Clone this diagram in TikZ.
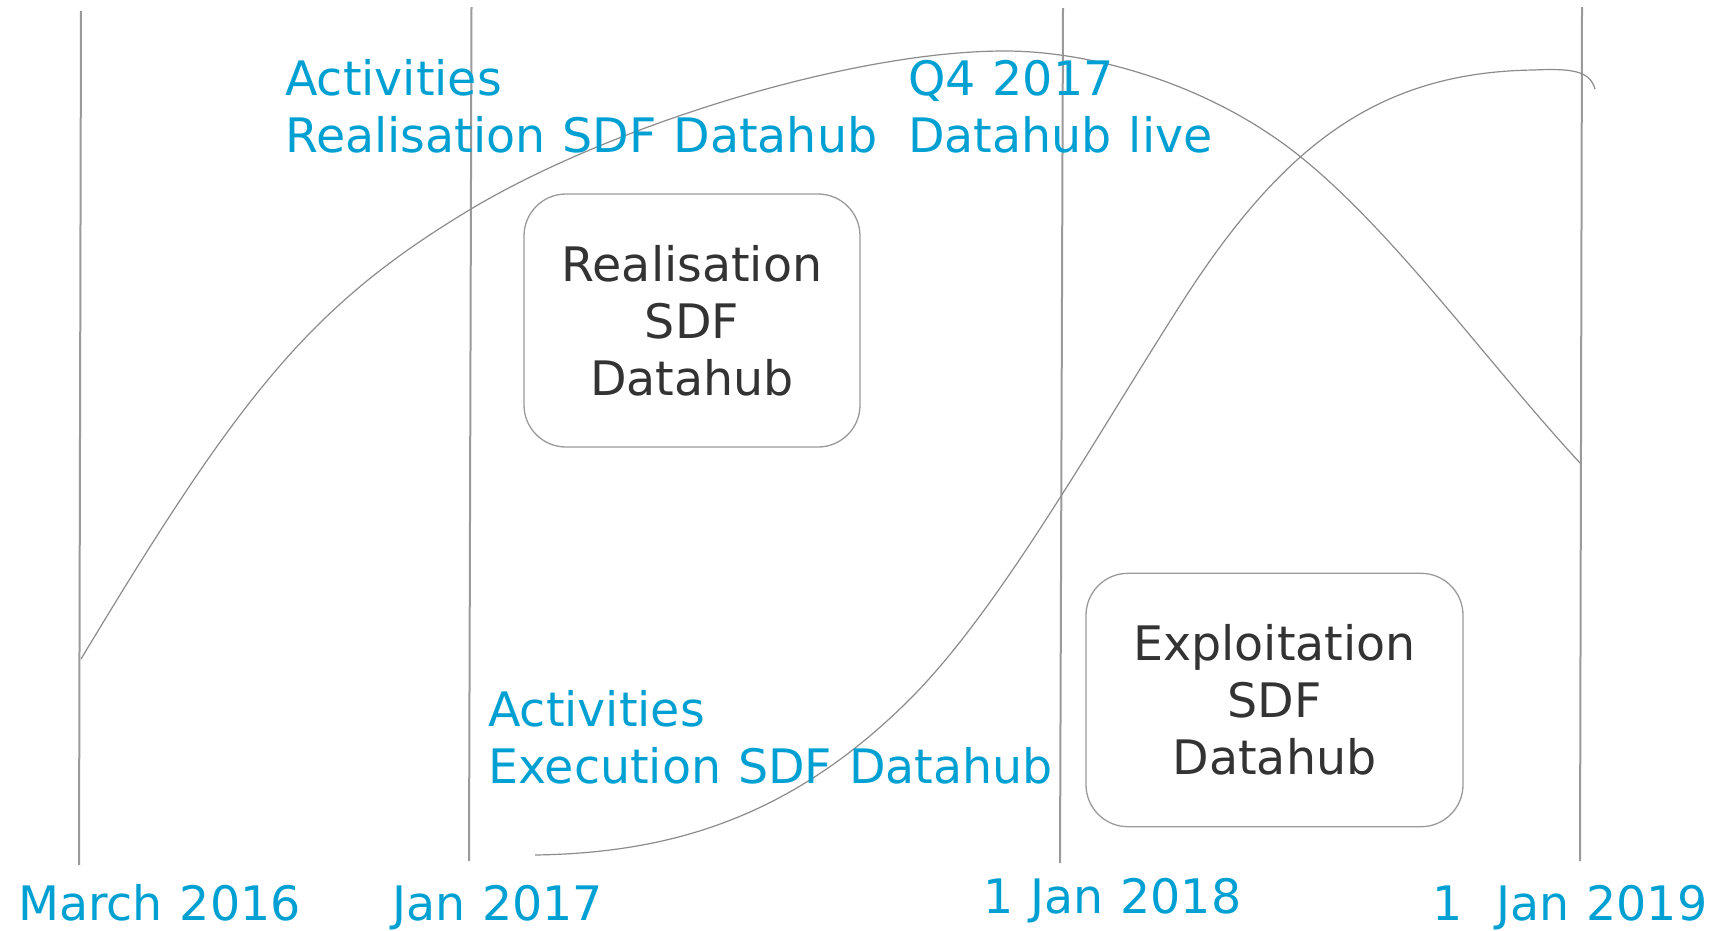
\documentclass[tikz,border=0pt]{standalone}
\usepackage{fontspec}
\setmainfont{DejaVu Sans}[WordSpace=1.12]
\definecolor{cyanlbl}{HTML}{00A0D2}
\definecolor{darktxt}{HTML}{333333}
\definecolor{guide}{HTML}{9A9A9A}
\definecolor{curvecol}{HTML}{8C8C8C}
\begin{document}
\begin{tikzpicture}[x=1pt,y=-1pt,
  lbl/.style={text=cyanlbl, font=\fontsize{47.5}{57}\selectfont, inner sep=0pt, align=left},
  phase/.style={draw=guide, line width=1.3pt, rounded corners=42pt, text=darktxt,
    font=\fontsize{47.5}{57}\selectfont, align=center, inner sep=0pt},
  guideline/.style={draw=guide, line width=2pt},
  trend/.style={draw=curvecol, line width=1.2pt}]
\useasboundingbox[fill=white] (0,0) rectangle (1718,930);

% vertical time lines
\coordinate (l1t) at (81,11);   \coordinate (l1b) at (79,865);
\coordinate (l2t) at (471.5,7); \coordinate (l2b) at (469,861);
\coordinate (l3t) at (1063,8);  \coordinate (l3b) at (1060,863);
\coordinate (l4t) at (1582,7);  \coordinate (l4b) at (1580,861);
\draw[guideline] (l1t) -- (l1b);
\draw[guideline] (l2t) -- (l2b);
\draw[guideline] (l3t) -- (l3b);
\draw[guideline] (l4t) -- (l4b);

% realisation curve (rise and fall)
\coordinate (ra) at (81,659);
\coordinate (rb) at (471,209);
\coordinate (rc) at (1005,51);
\coordinate (rd) at (1297,154);
\coordinate (re) at (1580,463);
\draw[trend] (ra) .. controls (241,393) and (311,305) .. (rb)
  .. controls (610,126) and (850,51) .. (rc)
  .. controls (1090,51) and (1207,83) .. (rd)
  .. controls (1392,229) and (1485,360) .. (re);

% execution curve (S-shape)
\coordinate (ea) at (535,855);
\coordinate (eb) at (906,703);
\coordinate (ec) at (1179,307);
\coordinate (ed) at (1534,70);
\coordinate (ee) at (1595,89);
\draw[trend] (ea) .. controls (665,853) and (786,821) .. (eb)
  .. controls (996,615) and (1089,448) .. (ec)
  .. controls (1279,150) and (1374,72) .. (ed)
  .. controls (1575,68) and (1590,72) .. (ee);

% boxes
\node[phase, minimum width=336pt, minimum height=253pt] (real) at (692,320.5)
  {Realisation\\SDF\\Datahub};
\node[phase, minimum width=377pt, minimum height=253.4pt] (expl) at (1274.5,700)
  {Exploitation\\SDF\\Datahub};

% cyan labels
\node[lbl, anchor=north west] (actreal) at (285,59.3) {Activities\\Realisation SDF Datahub};
\node[lbl, anchor=north west] (q4) at (908,60) {Q4 2017\\Datahub live};
\node[lbl, anchor=north west] (actexec) at (488,690) {Activities\\Execution SDF Datahub};

% dates
\node[lbl, anchor=base west] (d1) at (18,920) {March 2016};
\node[lbl, anchor=base west] (d2) at (392,920) {Jan 2017};
\node[lbl, anchor=base west] (d3) at (983,913) {1 Jan 2018};
\node[lbl, anchor=base west] (d4) at (1432,920) {1\ \ Jan 2019};
\end{tikzpicture}
\end{document}
